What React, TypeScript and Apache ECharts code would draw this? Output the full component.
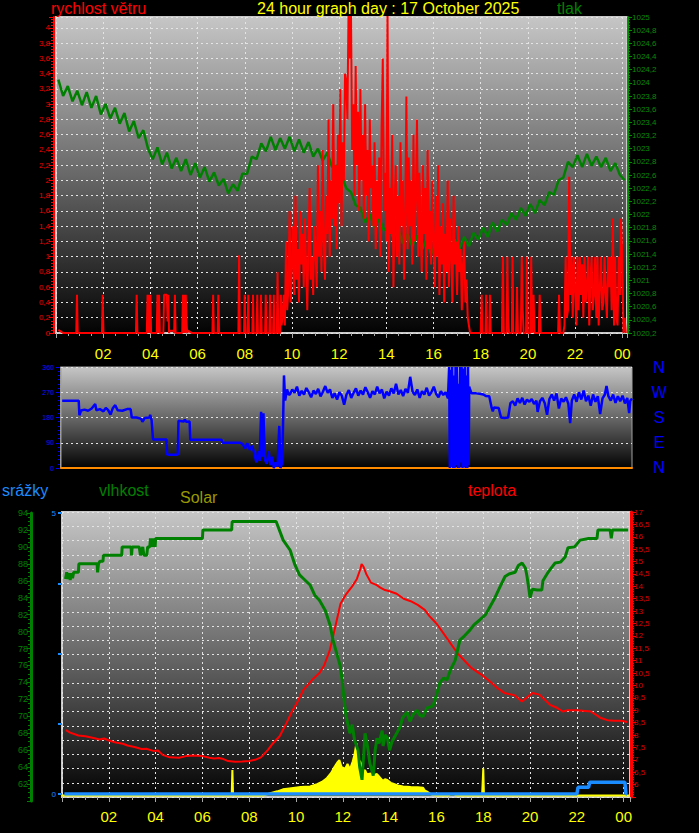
import React, { useEffect, useRef } from 'react';
import * as echarts from 'echarts';

const TITLE = '24 hour graph day : 17 October 2025';
const FONT = 'Liberation Sans, Arial, sans-serif';

// ---------- Panel 1: pressure (hPa), every 0.2 h from 0.1 h ----------
const PRESSURE_START = 0.1;
const PRESSURE_STEP = 0.2;
const pressure = [
  1024.05, 1023.80, 1023.95, 1023.72, 1023.88,
  1023.66, 1023.86, 1023.62, 1023.80, 1023.52,
  1023.68, 1023.46, 1023.62, 1023.38, 1023.54,
  1023.26, 1023.42, 1023.16, 1023.28, 1023.00,
  1022.84, 1023.02, 1022.76, 1022.94, 1022.70,
  1022.86, 1022.66, 1022.84, 1022.60, 1022.78,
  1022.56, 1022.72, 1022.50, 1022.64, 1022.44,
  1022.54, 1022.32, 1022.46, 1022.36, 1022.62,
  1022.62, 1022.88, 1022.84, 1023.08, 1022.96,
  1023.18, 1022.98, 1023.16, 1023.00, 1023.18,
  1022.96, 1023.14, 1022.94, 1023.10, 1022.88,
  1023.00, 1022.82, 1022.94, 1022.72, 1022.74,
  1022.60, 1022.40, 1022.34, 1022.14, 1022.10,
  1021.88, 1022.00, 1021.80, 1021.94, 1021.76,
  1021.84, 1021.64, 1021.78, 1021.56, 1021.70,
  1021.52, 1021.68, 1021.46, 1021.62, 1021.40,
  1021.56, 1021.38, 1021.58, 1021.44, 1021.62,
  1021.48, 1021.66, 1021.52, 1021.72, 1021.62,
  1021.80, 1021.66, 1021.88, 1021.74, 1021.92,
  1021.84, 1022.02, 1021.92, 1022.10, 1021.98,
  1022.16, 1022.02, 1022.22, 1022.14, 1022.34,
  1022.30, 1022.52, 1022.56, 1022.80, 1022.72,
  1022.90, 1022.72, 1022.92, 1022.74, 1022.88,
  1022.72, 1022.86, 1022.66, 1022.78, 1022.60,
  1022.52,
];

// ---------- Panel 1: wind speed (m/s) ----------
const windEarly: number[][] = [
  [0.1, 0.04], [0.3, 0], [0.86, 0], [0.89, 0.5], [0.92, 0],
  [1.95, 0], [1.98, 0.5], [2.01, 0],
  [3.39, 0], [3.42, 0.5], [3.45, 0],
  [3.85, 0], [3.88, 0.5], [3.91, 0], [3.94, 0.5], [3.97, 0], [4.0, 0.5], [4.03, 0],
  [4.27, 0], [4.3, 0.5], [4.33, 0], [4.37, 0.5], [4.4, 0],
  [4.55, 0], [4.58, 0.5], [4.7, 0.5], [4.73, 0.15], [4.76, 0.5], [4.79, 0], [4.82, 0.03], [4.98, 0.03],
  [5.01, 0], [5.04, 0.5], [5.07, 0],
  [5.35, 0], [5.38, 0.5], [5.41, 0], [5.44, 0.5], [5.47, 0], [5.5, 0.5], [5.53, 0.15], [5.56, 0], [5.6, 0.03], [5.75, 0],
  [6.63, 0], [6.66, 0.5], [6.69, 0], [6.85, 0], [6.88, 0.5], [6.91, 0],
  [7.73, 0], [7.76, 1.02], [7.79, 0],
  [7.97, 0], [8.0, 0.5], [8.03, 0], [8.12, 0], [8.15, 0.5], [8.18, 0], [8.32, 0], [8.35, 0.5], [8.38, 0],
  [8.5, 0], [8.53, 0.5], [8.56, 0], [8.66, 0], [8.69, 0.5], [8.72, 0], [8.86, 0], [8.89, 0.5], [8.92, 0],
  [9.04, 0], [9.07, 0.5], [9.1, 0], [9.2, 0], [9.23, 0.5], [9.26, 0], [9.36, 0], [9.39, 0.8], [9.42, 0],
  [9.5, 0], [9.53, 0.5], [9.56, 0.1],
];
const WIND_BUSY_START = 9.6;
const WIND_STEP = 0.05;
const windBusy = [
  0.2, 0.5, 0.1, 1.2, 0.3, 0.6, 1.6, 0.4,
  0.9, 1.4, 0.5, 1.8, 0.7, 1.1, 0.4, 1.6, 0.9, 1.3,
  0.6, 1.5, 0.9, 0.3, 1.2, 1.9, 0.7, 1.0, 0.5, 1.4,
  1.1, 0.6, 2.2, 1.0, 1.6, 0.8, 2.4, 1.2, 0.7, 1.8,
  1.3, 2.8, 1.0, 2.0, 1.5, 3.0, 1.4, 2.2, 1.1, 2.6,
  1.7, 3.2, 1.4, 2.5, 2.0, 3.4, 3.3, 2.8, 4.3, 3.6,
  4.3, 2.4, 3.0, 1.8, 3.5, 2.2, 2.9, 1.6, 3.2, 2.0,
  2.6, 1.5, 3.0, 1.8, 2.4, 1.2, 2.8, 1.9, 2.2, 1.4,
  2.5, 1.1, 2.0, 1.5, 2.3, 1.0, 2.7, 3.6, 1.6, 2.1,
  1.2, 4.3, 0.8, 1.9, 1.3, 2.6, 0.6, 1.7, 2.2, 1.0,
  1.8, 0.9, 2.5, 1.4, 2.0, 0.7, 1.5, 3.1, 1.1, 2.3,
  1.4, 2.0, 0.9, 2.6, 1.2, 1.8, 2.8, 1.0, 2.1, 1.5,
  0.8, 2.2, 1.3, 1.9, 0.7, 2.4, 1.1, 1.6, 0.9, 2.0,
  1.2, 0.6, 1.8, 1.0, 2.2, 0.5, 1.4, 0.9, 1.7, 0.4,
  1.3, 0.8, 2.0, 0.6, 1.5, 1.0, 0.4, 1.8, 0.9, 1.2,
  0.5, 1.4, 0.8, 1.1, 0.3, 0.9, 1.2, 0.4, 0.7, 0.2,
  0.1, 0,
];
const windMid: number[][] = [
  [17.6, 0], [18.0, 0], [18.04, 0.5], [18.07, 0], [18.2, 0], [18.23, 0.5], [18.26, 0], [18.36, 0], [18.39, 0.5], [18.42, 0],
  [18.9, 0], [18.94, 1.0], [18.98, 0], [19.1, 0], [19.13, 1.0], [19.16, 0.2], [19.2, 0], [19.32, 0], [19.35, 1.0], [19.38, 0],
  [19.5, 0], [19.54, 0.6], [19.58, 0], [19.7, 0], [19.74, 1.0], [19.78, 0.3], [19.82, 0], [19.92, 0], [19.96, 1.0], [20.0, 0],
  [20.1, 0], [20.14, 1.0], [20.18, 0], [20.24, 0.5], [20.28, 0], [20.46, 0], [20.5, 0.5], [20.54, 0],
  [21.28, 0], [21.32, 0.5], [21.36, 0], [21.45, 0],
];
const WIND_LATE_START = 21.5;
const windLate = [
  0, 0.1, 1.0, 0.2, 0.3, 2.05, 0.5, 1.0, 0.2, 1.0,
  0.6, 0.1, 1.0, 0.3, 1.0, 0.5, 0.9, 0.2, 1.0, 0.4,
  0.6, 1.0, 0.1, 0.7, 1.0, 0.3, 0.5, 1.0, 0.2, 1.0,
  0.1, 0.6, 1.0, 0.3, 0.4, 1.0, 0.5, 0.2, 1.0, 0.6,
  1.0, 0.3, 1.5, 0.1, 1.0, 0.2, 0.1, 1.0, 0.5, 1.5,
  1.0, 0.0, 0.2, 0.0,
];

// ---------- Panel 2: wind direction (deg) ----------
const dirEarly: number[][] = [
  [0.05, 240], [0.75, 240], [0.78, 188], [0.85, 205], [1.0, 208], [1.15, 204], [1.3, 212], [1.45, 228], [1.5, 206],
  [1.65, 210], [1.8, 202], [1.9, 214], [2.0, 206], [2.1, 190], [2.2, 214], [2.3, 224], [2.4, 206], [2.6, 204],
  [2.8, 210], [2.95, 210], [3.0, 180], [3.2, 180], [3.4, 175], [3.45, 165], [3.55, 178], [3.75, 180], [3.78, 190],
  [3.84, 170], [3.9, 102], [4.47, 102], [4.5, 47], [4.95, 47], [4.98, 168], [5.2, 166], [5.25, 172], [5.3, 165],
  [5.45, 166], [5.48, 101], [6.8, 101], [6.84, 90], [7.6, 90], [7.7, 85], [7.8, 70], [7.9, 88], [8.0, 65], [8.1, 80],
  [8.2, 50], [8.28, 20], [8.35, 60], [8.42, 25], [8.48, 200], [8.52, 40], [8.58, 195], [8.64, 30], [8.72, 15],
  [8.8, 60], [8.88, 10], [8.95, 40], [9.02, 0], [9.1, 20], [9.18, 5], [9.25, 150], [9.3, 0], [9.38, 20],
  [9.45, 330], [9.5, 240], [9.58, 280], [9.65, 262],
];
const DIR_MAIN_START = 9.7;
const DIR_MAIN_STEP = 0.1;
const dirMain = [
  262, 280, 268, 290, 258, 275, 262, 285, 270, 252,
  276, 264, 282, 255, 272, 292, 268, 280, 250, 266,
  244, 270, 258, 226, 262, 278, 250, 268, 284, 258,
  276, 262, 288, 270, 250, 274, 262, 290, 266, 280,
  248, 272, 258, 284, 266, 300, 262, 278, 256, 282,
  268, 325, 272, 260, 280, 250, 274, 262, 286, 258,
  270, 290, 264, 252, 274, 260, 270, 248,
];
const dirOsc: number[][] = [
  [16.45, 360], [16.48, 0], [16.52, 350], [16.55, 5], [16.58, 360], [16.62, 0], [16.65, 330], [16.68, 0],
  [16.72, 360], [16.75, 10], [16.78, 360], [16.82, 0], [16.85, 300], [16.88, 0], [16.92, 360], [16.95, 20],
  [16.98, 360], [17.02, 0], [17.05, 355], [17.08, 5], [17.12, 360], [17.15, 0], [17.18, 330], [17.22, 0],
  [17.25, 360], [17.28, 10], [17.3, 290],
];
const dirLate: number[][] = [
  [17.33, 282], [17.4, 266], [17.6, 266], [17.8, 264], [17.9, 262], [18.0, 257], [18.15, 256], [18.25, 215],
  [18.3, 202], [18.35, 216], [18.55, 214], [18.65, 180], [18.8, 178], [18.95, 180], [19.05, 232], [19.15, 238],
  [19.25, 222], [19.35, 248], [19.45, 232], [19.55, 250], [19.65, 226], [19.75, 244], [19.85, 236], [19.95, 246],
  [20.05, 228], [20.15, 240], [20.2, 200], [20.3, 238], [20.4, 250], [20.5, 232], [20.6, 190], [20.7, 246],
  [20.8, 262], [20.9, 240], [21.0, 266], [21.1, 212], [21.2, 248], [21.3, 236], [21.4, 252], [21.5, 230],
  [21.58, 160], [21.65, 240], [21.75, 262], [21.85, 236], [21.95, 270], [22.05, 244], [22.15, 276], [22.25, 238],
  [22.35, 258], [22.45, 222], [22.55, 262], [22.65, 236], [22.75, 256], [22.85, 192], [22.95, 248], [23.05, 262],
  [23.12, 292], [23.2, 256], [23.3, 240], [23.4, 262], [23.5, 232], [23.6, 256], [23.7, 238], [23.8, 258],
  [23.9, 230], [24.0, 250], [24.08, 196], [24.13, 240], [24.2, 248],
];

// ---------- Panel 3 ----------
const humidity: number[][] = [
  [0.15, 86.2], [0.2, 87], [0.25, 86.2], [0.3, 86.9], [0.35, 86.1], [0.4, 86.9], [0.45, 86.3], [0.5, 87],
  [0.7, 87], [0.72, 88], [1.5, 88], [1.52, 87], [1.56, 88], [1.62, 88.3], [1.75, 88.3], [1.77, 89],
  [2.55, 89], [2.57, 90], [2.95, 90], [2.97, 89], [3.0, 90], [3.3, 90], [3.35, 89], [3.45, 90], [3.5, 89],
  [3.62, 89], [3.66, 90], [3.75, 90], [3.78, 91], [3.85, 90], [3.9, 91], [3.98, 90], [4.0, 91], [6.0, 91],
  [6.02, 92], [7.25, 92], [7.27, 93], [9.15, 93],
  [9.45, 90.8], [9.75, 89.6], [9.95, 87.9], [10.15, 86.7], [10.3, 86.3], [10.6, 85.5], [10.8, 84.3],
  [11.0, 83.7], [11.25, 82.5], [11.45, 80.8], [11.58, 79], [11.7, 77.8], [11.88, 76], [11.97, 74.3],
  [12.05, 72], [12.14, 70], [12.3, 68], [12.4, 69], [12.5, 67.2], [12.65, 66], [12.72, 64], [12.82, 62.5],
  [12.88, 65], [12.95, 68], [13.02, 67], [13.08, 66], [13.15, 64.5], [13.3, 63], [13.38, 66], [13.46, 67.4],
  [13.55, 66.8], [13.68, 68.3], [13.72, 66.5], [13.8, 67.8], [13.9, 67.5], [14.0, 66], [14.1, 67], [14.3, 68],
  [14.44, 68.7], [14.55, 69.8], [14.74, 70.5], [14.87, 69.4], [15.0, 70.2], [15.17, 70.7], [15.3, 70.1],
  [15.43, 70], [15.6, 71], [15.85, 71.2], [16.0, 72.5], [16.15, 74], [16.3, 74.5], [16.45, 74.3], [16.6, 75.5],
  [16.8, 76.6], [17.0, 79], [17.2, 79.5], [17.44, 80.2], [17.6, 80.8], [17.86, 81.4], [18.1, 82], [18.3, 83],
  [18.5, 84], [18.7, 85.2], [18.93, 86.5], [19.1, 86.8], [19.36, 87], [19.5, 87.8], [19.66, 88.1], [19.8, 87.5],
  [19.87, 86.5], [19.95, 85], [20.0, 84], [20.1, 85], [20.3, 84.9], [20.5, 84.9], [20.55, 86], [20.77, 87],
  [20.9, 87.5], [21.07, 88.1], [21.3, 88.2], [21.5, 88.8], [21.62, 89.9], [21.9, 90], [22.14, 90.8],
  [22.5, 91], [22.86, 91], [22.9, 92], [23.42, 92], [23.47, 91], [23.52, 92], [24.19, 92],
];
const temperature: number[][] = [
  [0.17, 8.2], [0.35, 8.1], [0.7, 7.98], [1.0, 7.95], [1.4, 7.87], [1.6, 7.82], [1.8, 7.86], [2.0, 7.78],
  [2.3, 7.7], [2.6, 7.65], [2.8, 7.58], [3.1, 7.52], [3.4, 7.44], [3.6, 7.45], [3.9, 7.36], [4.1, 7.38],
  [4.3, 7.2], [4.6, 7.1], [5.0, 7.08], [5.3, 7.15], [5.6, 7.17], [6.0, 7.15], [6.3, 7.08], [6.5, 7.05],
  [6.7, 7.07], [6.9, 7.03], [7.1, 6.95], [7.4, 6.92], [7.7, 6.93], [8.0, 6.95], [8.25, 7.0], [8.5, 7.1],
  [8.8, 7.4], [9.0, 7.65], [9.3, 7.95], [9.6, 8.5], [9.8, 8.9], [10.04, 9.3], [10.3, 9.8], [10.7, 10.24],
  [11.0, 10.5], [11.2, 10.8], [11.45, 11.45], [11.65, 12.26], [11.9, 13.3], [12.15, 13.7], [12.4, 14.0],
  [12.6, 14.3], [12.75, 14.7], [12.8, 14.9], [12.88, 14.8], [13.0, 14.5], [13.2, 14.15], [13.45, 14.05],
  [13.6, 13.95], [13.8, 13.85], [14.0, 13.8], [14.3, 13.7], [14.6, 13.5], [14.9, 13.4], [15.2, 13.25],
  [15.5, 13.05], [15.7, 12.8], [16.0, 12.5], [16.3, 12.1], [16.6, 11.7], [16.9, 11.3], [17.2, 11.0],
  [17.5, 10.7], [17.9, 10.45], [18.3, 10.15], [18.6, 9.9], [18.9, 9.7], [19.35, 9.6], [19.65, 9.35],
  [20.1, 9.7], [20.4, 9.63], [20.85, 9.22], [21.15, 9.1], [21.4, 8.95], [21.6, 9.0], [22.0, 9.0],
  [22.6, 8.95], [23.0, 8.7], [23.3, 8.6], [23.6, 8.58], [23.9, 8.58], [24.15, 8.53],
];
const solar: number[][] = [
  [0, 0], [7.25, 0], [7.28, 90], [7.31, 0], [8.6, 0], [8.9, 8], [9.2, 15], [9.44, 22], [9.8, 26], [10.2, 30],
  [10.6, 32], [10.9, 40], [11.1, 48], [11.3, 60], [11.5, 80], [11.6, 95], [11.75, 115], [11.85, 125],
  [11.95, 100], [12.1, 95], [12.2, 112], [12.3, 92], [12.42, 120], [12.5, 145], [12.58, 185], [12.62, 140],
  [12.66, 95], [12.73, 122], [12.8, 110], [12.86, 85], [12.95, 90], [13.03, 75], [13.2, 78], [13.3, 72],
  [13.46, 76], [13.6, 62], [13.72, 52], [13.8, 58], [13.9, 55], [14.05, 45], [14.15, 42], [14.35, 36],
  [14.57, 32], [14.9, 30], [15.2, 29], [15.43, 28], [15.5, 18], [15.6, 14], [15.8, 3], [16.0, 0], [16.5, 0],
  [16.6, 5], [16.75, 5], [16.85, 0], [17.95, 0], [18.0, 95], [18.03, 0], [24.27, 0],
];
const precipitation: number[][] = [
  [0.1, 0], [22.0, 0], [22.05, 0.12], [22.5, 0.12], [22.55, 0.21], [24.05, 0.21], [24.1, 0], [24.14, 0],
];
const compass = ['N', 'W', 'S', 'E', 'N'];

const hourFmt = (v: number) => {
  const r = Math.round(v);
  if (Math.abs(v - r) > 1e-6 || r === 0 || r % 2) return '';
  return String(r % 24).padStart(2, '0');
};
const comma = (v: number) => String(+v.toFixed(2)).replace('.', ',');

export default function App() {
  const ref = useRef<HTMLDivElement>(null);
  useEffect(() => {
    if (!ref.current) return;
    const chart = echarts.init(ref.current, null, { renderer: 'svg', width: 699, height: 833 });
    const grad = () =>
      new echarts.graphic.LinearGradient(0, 0, 0, 1, [
        { offset: 0, color: '#c6c6c6' },
        { offset: 0.5, color: '#686868' },
        { offset: 1, color: '#030303' },
      ]);
    const dotted = { color: '#e4e4e4', type: [2, 3] as any, width: 1 };
    const gray = '#a8a8a8';

    const windData = [
      ...windEarly,
      ...windBusy.map((v, i) => [WIND_BUSY_START + i * WIND_STEP, v]),
      ...windMid,
      ...windLate.map((v, i) => [WIND_LATE_START + i * WIND_STEP, v]),
    ];
    const dirData = [
      ...dirEarly,
      ...dirMain.map((v, i) => [DIR_MAIN_START + i * DIR_MAIN_STEP, v]),
      ...dirOsc,
      ...dirLate,
    ];
    const pressureData = pressure.map((v, i) => [PRESSURE_START + i * PRESSURE_STEP, v]);

    const txt = (text: string, x: number, y: number, fill: string, align = 'left') => ({
      type: 'text',
      x,
      y,
      silent: true,
      style: {
        text,
        fill,
        font: `16px ${FONT}`,
        align,
        textAlign: align,
        verticalAlign: 'middle',
        textVerticalAlign: 'middle',
      },
    });

    const hourAxisBase = (gridIndex: number, max: number, labels: boolean, margin: number) => ({
      type: 'value',
      gridIndex,
      min: 0,
      max,
      interval: 2,
      axisLine: { show: false, onZero: false },
      axisTick: { show: labels, length: 5, lineStyle: { color: gray } },
      minorTick: { show: labels, splitNumber: 4, length: 3, lineStyle: { color: gray } },
      axisLabel: { show: labels, color: '#ffff00', fontSize: 15, fontFamily: FONT, margin, formatter: hourFmt },
      splitLine: { show: labels, lineStyle: dotted },
    });

    const option: any = {
      animation: false,
      backgroundColor: '#000000',
      grid: [
        { left: 56, top: 17, width: 571, height: 316, show: true, backgroundColor: grad(), borderColor: '#c8c8c8', borderWidth: 2 },
        { left: 61, top: 367, width: 571, height: 101, show: true, backgroundColor: grad(), borderColor: '#a0a0a0', borderWidth: 1 },
        { left: 62, top: 512, width: 568, height: 285, show: true, backgroundColor: grad(), borderColor: '#c8c8c8', borderWidth: 2 },
        { left: 62, top: 513, width: 568, height: 281, show: false },
        { left: 62, top: 513, width: 568, height: 288, show: false },
      ],
      xAxis: [
        hourAxisBase(0, 24.2, true, 13),
        {
          type: 'value', gridIndex: 1, min: 0, max: 24.2,
          axisLine: { show: true, onZero: false, lineStyle: { color: '#ff8c00', width: 2 } },
          axisTick: { show: false }, axisLabel: { show: false }, splitLine: { show: false },
        },
        hourAxisBase(2, 24.27, true, 12),
        { type: 'value', gridIndex: 3, min: 0, max: 24.27, show: false },
        { type: 'value', gridIndex: 4, min: 0, max: 24.27, show: false },
      ],
      yAxis: [
        {
          type: 'value', gridIndex: 0, position: 'left', offset: 2, min: 0, max: 4.144, interval: 0.2,
          axisLine: { show: true, onZero: false, lineStyle: { color: '#ff0000', width: 2 } },
          axisTick: { show: true, length: 5, lineStyle: { color: '#ff0000' } },
          minorTick: { show: true, splitNumber: 5, length: 3, lineStyle: { color: '#ff0000' } },
          axisLabel: {
            color: '#e80000', fontSize: 8, fontFamily: FONT, margin: 4,
            formatter: (v: number) => (Math.abs(v * 5 - Math.round(v * 5)) > 1e-6 ? '' : comma(v)),
          },
          splitLine: { show: true, lineStyle: dotted },
        },
        {
          type: 'value', gridIndex: 0, position: 'right', offset: 1, min: 1020.2, max: 1025, interval: 0.2,
          axisLine: { show: true, onZero: false, lineStyle: { color: '#009000', width: 2 } },
          axisTick: { show: true, length: 4, lineStyle: { color: '#009000' } },
          minorTick: { show: true, splitNumber: 5, length: 2, lineStyle: { color: '#009000' } },
          axisLabel: { color: '#0a8a0a', fontSize: 8, fontFamily: FONT, margin: 4, formatter: (v: number) => comma(v) },
          splitLine: { show: false },
        },
        {
          type: 'value', gridIndex: 1, position: 'left', offset: 1, min: 0, max: 360, interval: 90,
          axisLine: { show: true, onZero: false, lineStyle: { color: '#9a9a9a', width: 1 } },
          axisTick: { show: true, length: 4, lineStyle: { color: '#0000ff' } },
          minorTick: { show: true, splitNumber: 6, length: 2, lineStyle: { color: '#0000ff' } },
          axisLabel: { color: '#1010ff', fontSize: 7, fontFamily: FONT, margin: 6 },
          splitLine: { show: true, lineStyle: dotted },
        },
        {
          type: 'value', gridIndex: 2, min: 0, max: 20, interval: 1,
          axisLine: { show: false, onZero: false }, axisTick: { show: false }, axisLabel: { show: false },
          splitLine: { show: true, lineStyle: dotted },
        },
        {
          type: 'value', gridIndex: 2, position: 'right', offset: 1, min: 5.5, max: 17, interval: 0.5,
          axisLine: { show: true, onZero: false, lineStyle: { color: '#ff0000', width: 3 } },
          axisTick: { show: true, length: 5, lineStyle: { color: '#ff0000' } },
          minorTick: { show: true, splitNumber: 5, length: 3, lineStyle: { color: '#ff0000' } },
          axisLabel: {
            color: '#dd0000', fontSize: 8, fontFamily: FONT, margin: 3,
            formatter: (v: number) => (v < 5.9 ? '' : comma(v)),
          },
          splitLine: { show: false },
        },
        { type: 'value', gridIndex: 2, min: -5, max: 1000, show: false },
        {
          type: 'value', gridIndex: 3, position: 'left', offset: 0, min: 0, max: 5, interval: 1.25,
          axisLine: { show: false, onZero: false },
          axisTick: { show: true, length: 4, lineStyle: { color: '#1a8cff', width: 2 } },
          axisLabel: {
            color: '#1a8cff', fontSize: 8, fontFamily: FONT, margin: 6,
            formatter: (v: number) => (v === 0 ? '0' : Math.abs(v - 5) < 1e-6 ? '5' : ''),
          },
          splitLine: { show: false },
        },
        {
          type: 'value', gridIndex: 4, position: 'left', offset: 31, min: 60, max: 94, interval: 2,
          axisLine: { show: true, onZero: false, lineStyle: { color: '#008000', width: 3 } },
          axisTick: { show: true, length: 4, lineStyle: { color: '#008000' } },
          minorTick: { show: true, splitNumber: 4, length: 3, lineStyle: { color: '#008000' } },
          axisLabel: {
            color: '#008000', fontSize: 9, fontFamily: FONT, margin: 3,
            formatter: (v: number) => (v < 61 ? '' : String(Math.round(v))),
          },
          splitLine: { show: false },
        },
      ],
      series: [
        {
          name: 'tlak', type: 'line', xAxisIndex: 0, yAxisIndex: 1, data: pressureData,
          showSymbol: false, symbol: 'none', lineStyle: { color: '#008000', width: 2.5 }, silent: true,
        },
        {
          name: 'rychlost větru', type: 'line', xAxisIndex: 0, yAxisIndex: 0, data: windData,
          showSymbol: false, symbol: 'none', lineStyle: { color: '#ff0000', width: 2 }, silent: true,
        },
        {
          name: 'směr', type: 'line', xAxisIndex: 1, yAxisIndex: 2, data: dirData,
          showSymbol: false, symbol: 'none', lineStyle: { color: '#0000ff', width: 2.5 }, silent: true,
        },
        {
          name: 'Solar', type: 'line', xAxisIndex: 2, yAxisIndex: 5, data: solar,
          showSymbol: false, symbol: 'none', lineStyle: { color: '#ffff00', width: 2 },
          areaStyle: { color: '#ffff00', opacity: 1 }, silent: true,
        },
        {
          name: 'teplota', type: 'line', xAxisIndex: 2, yAxisIndex: 4, data: temperature,
          showSymbol: false, symbol: 'none', lineStyle: { color: '#ff0000', width: 2 }, silent: true,
        },
        {
          name: 'vlhkost', type: 'line', xAxisIndex: 4, yAxisIndex: 7, data: humidity,
          showSymbol: false, symbol: 'none', lineStyle: { color: '#008000', width: 3 }, silent: true,
        },
        {
          name: 'srážky', type: 'line', xAxisIndex: 3, yAxisIndex: 6, data: precipitation,
          showSymbol: false, symbol: 'none', lineStyle: { color: '#1a8cff', width: 3.5 }, silent: true,
        },
      ],
      graphic: [
        txt('rychlost větru', 51, 8, '#ff0000'),
        txt(TITLE, 257, 8, '#ffff00'),
        txt('tlak', 557, 8, '#008000'),
        txt('srážky', 2, 490, '#1a8cff'),
        txt('vlhkost', 99, 490, '#008000'),
        txt('Solar', 180, 497, '#999900'),
        txt('teplota', 468, 490, '#ff0000'),
        ...compass.map((c, i) => txt(c, 659, 367 + i * 25, '#0000ff', 'center')),
      ],
    };
    chart.setOption(option);
    return () => chart.dispose();
  }, []);

  return (
    <div style={{ position: 'fixed', left: 0, top: 0, width: 699, height: 833, background: '#000' }}>
      <div ref={ref} style={{ width: 699, height: 833 }} />
    </div>
  );
}
